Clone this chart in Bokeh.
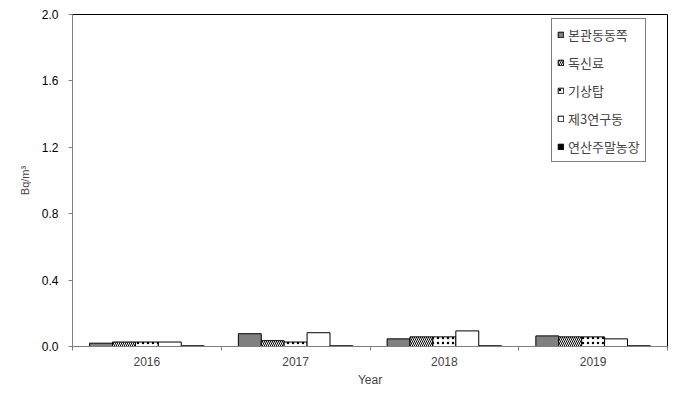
from bokeh.plotting import figure
from bokeh.models import FixedTicker, NumeralTickFormatter, Range1d, Legend, LegendItem, ColumnDataSource
from bokeh.embed import file_html
from bokeh.resources import INLINE

years = ["2016", "2017", "2018", "2019"]
series_names = ["본관동동쪽", "독신료", "기상탑", "제3연구동", "연산주말농장"]
s1 = [0.020, 0.077, 0.046, 0.064]
s2 = [0.027, 0.035, 0.058, 0.058]
s3 = [0.027, 0.027, 0.058, 0.058]
s4 = [0.027, 0.083, 0.094, 0.046]
s5 = [0.004, 0.004, 0.004, 0.004]
series_values = [s1, s2, s3, s4, s5]

fills = ["#808080", "white", "white", "white", "black"]
hatches = [None, "\\", ".", None, None]
hscales = [None, 4, 5, None, None]
hweights = [None, 1, 0.5, None, None]

bar_w = 0.154
offsets = [-2 * bar_w, -bar_w, 0.0, bar_w, 2 * bar_w]

p = figure(width=682, height=405, output_backend="svg", toolbar_location=None,
           x_range=Range1d(0, len(years)), y_range=Range1d(0, 2.0),
           min_border_left=72, min_border_right=15, min_border_top=14, min_border_bottom=59)
p.background_fill_color = "white"
p.border_fill_color = "white"
p.outline_line_color = "black"
p.outline_line_width = 1
p.xgrid.visible = False
p.ygrid.visible = False

centers = [i + 0.5 for i in range(len(years))]
items = []
for k, vals in enumerate(series_values):
    src = ColumnDataSource(dict(x=[c + offsets[k] for c in centers], top=vals))
    kw = dict(x="x", top="top", width=bar_w, bottom=0, source=src,
              fill_color=fills[k], line_color="black", line_width=1)
    if hatches[k]:
        kw.update(hatch_pattern=hatches[k], hatch_color="black",
                  hatch_scale=hscales[k], hatch_weight=hweights[k])
    r = p.vbar(**kw)
    items.append(LegendItem(label=series_names[k], renderers=[r]))

legend = Legend(items=items, location=(479, 184), orientation="vertical")
legend.label_text_font = "Noto Sans CJK KR"
legend.label_text_font_size = "13px"
legend.label_height = 20
legend.glyph_width = 7
legend.glyph_height = 7
legend.label_standoff = 4
legend.spacing = 8
legend.padding = 5
legend.margin = 0
legend.border_line_color = "black"
legend.border_line_width = 1
legend.background_fill_color = "white"
legend.background_fill_alpha = 1
p.add_layout(legend, "center")

# y axis
ya = p.yaxis[0]
ya.ticker = FixedTicker(ticks=[0, 0.4, 0.8, 1.2, 1.6, 2.0])
ya.formatter = NumeralTickFormatter(format="0.0")
ya.axis_line_color = "#808080"
ya.major_tick_line_color = "#808080"
ya.major_tick_out = 4
ya.major_tick_in = 0
ya.minor_tick_line_color = None
ya.major_label_text_font = "Liberation Sans"
ya.major_label_text_font_size = "12px"
ya.major_label_text_color = "black"
ya.major_label_standoff = 10
ya.axis_label = "Bq/m³"
ya.axis_label_text_font = "Liberation Sans"
ya.axis_label_text_font_size = "11px"
ya.axis_label_text_font_style = "normal"
ya.axis_label_standoff = 8

# x axis
xa = p.xaxis[0]
xa.ticker = FixedTicker(ticks=centers, minor_ticks=list(range(len(years) + 1)))
xa.major_label_overrides = {c: y for c, y in zip(centers, years)}
xa.axis_line_color = "#808080"
xa.major_tick_line_color = None
xa.major_tick_out = 0
xa.major_tick_in = 0
xa.minor_tick_line_color = "#808080"
xa.minor_tick_out = 4
xa.minor_tick_in = 0
xa.major_label_text_font = "Liberation Sans"
xa.major_label_text_font_size = "12px"
xa.major_label_standoff = 6
xa.axis_label = "Year"
xa.axis_label_text_font = "Liberation Sans"
xa.axis_label_text_font_size = "12px"
xa.axis_label_text_font_style = "normal"
xa.axis_label_standoff = 4

open("out.html", "w").write(file_html(p, INLINE))
